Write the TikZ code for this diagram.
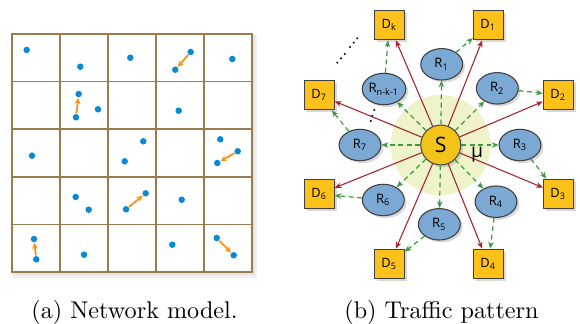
\documentclass[tikz,border=0pt]{standalone}
\usepackage{fontspec}
\newfontfamily\nodefont{Open Sans}
\usetikzlibrary{arrows.meta, shapes.geometric, shadows}

\definecolor{gridbrown}{HTML}{9C7B52}
\definecolor{dotblue}{HTML}{0A8AD2}
\definecolor{moveorange}{HTML}{F7941D}
\definecolor{dstyellow}{HTML}{FCC21A}
\definecolor{rlyblue}{HTML}{7BA9D4}
\definecolor{srcyellow}{HTML}{F2C318}
\definecolor{halo}{HTML}{EEF3C9}
\definecolor{directred}{HTML}{A8252E}
\definecolor{hopgreen}{HTML}{3C9C3C}

\begin{document}
\begin{tikzpicture}
[x=0.4135pt, y=-0.4135pt,
   cell/.style={gridbrown, line width=0.7pt, line cap=rect},
   spot/.style={circle, fill=dotblue, inner sep=0pt, minimum size=2.7pt},
   move/.style={moveorange, line width=0.75pt, -{Stealth[length=2.6pt,width=2.4pt]}},
   shade/.style={drop shadow={shadow xshift=1pt, shadow yshift=-1pt, opacity=0.3}},
   dst/.style={shape=rectangle, draw=black!75, line width=0.45pt, fill=dstyellow, minimum size=12.3pt, inner sep=0pt, font=\nodefont\fontsize{5.3}{6}\selectfont, shade},
   rly/.style={shape=ellipse, draw=black!75, line width=0.45pt, fill=rlyblue, minimum width=17.3pt, minimum height=13pt, inner sep=0pt, font=\nodefont\fontsize{5.4}{6}\selectfont, shade},
   src/.style={shape=circle, draw=black!70, line width=0.45pt, fill=srcyellow, minimum size=16.5pt, inner sep=0pt, font=\nodefont\fontsize{8.8}{9}\selectfont, shade},
   direct/.style={directred, line width=0.45pt, -{Stealth[length=2.8pt,width=2.3pt]}},
   hop/.style={hopgreen, line width=0.5pt, dash pattern=on 2pt off 1.5pt, -{Stealth[length=2.8pt,width=2.3pt]}}]
\useasboundingbox (0,0) rectangle (580,324);

% (a) network model
\fill[black!6] (13,35) rectangle (257,278);
\fill[black!10] (13,35) rectangle (255,275);
\fill[white] (12,34) rectangle (252,272);
\foreach \i in {0,...,5} {
  \draw[cell] (12+48*\i,34) -- (12+48*\i,272);
  \draw[cell] (12,34+47.6*\i) -- (252,34+47.6*\i);
}
\foreach \n/\x/\y in {p1/26.7/50, p2/80.3/66.7, p3/130.3/57.7, p4/190.7/52, p5/175.3/69.7, p6/232.3/59,
    p7/76/117.3, p8/78.7/94, p9/98/109.3, p10/178.7/110.7,
    p11/32/155.7, p12/143.3/141.3, p13/124.7/161.3, p14/220.3/139.3, p15/237.7/151.3, p16/217.3/163,
    p17/75.7/197, p18/88.7/209.7, p19/126/209.3, p20/145.7/193.3, p21/181.7/199.7,
    p22/36.3/259.3, p23/34/239, p24/84/254.7, p25/172.3/244.7, p26/216.7/238, p27/233.7/255.3}
  \node[spot] (\n) at (\x,\y) {};
\foreach \a/\b in {p4/p5, p7/p8, p15/p16, p19/p20, p22/p23, p26/p27}
  \draw[move] (\a) -- (\b);

% (b) traffic pattern
\coordinate (c) at (440.7,145);
\fill[halo] (c) circle (20.7pt);
\node[src] (S) at (c) {S};
\foreach \n/\x/\y/\t in {D1/488.3/25/1, D2/558.3/95/2, D3/558.3/194/3, D4/488.3/264/4,
    D5/389.3/264/5, D6/319.3/194/6, D7/319.3/95/7, Dk/389.3/25/k}
  \node[dst] (\n) at (\x,\y) {D\textsubscript{\t}};
\foreach \n/\x/\y/\t in {R1/441.7/64.3/1, R2/497.3/88.3/2, R3/520/145/3, R4/496/201.7/4,
    R5/439.3/224.3/5, R6/383.3/200/6, R7/360/145/7, Rnk/384/89/n-k-1}
  \node[rly] (\n) at (\x,\y) {R\textsubscript{\t}};
\foreach \d in {D1,D2,D3,D4,D5,D6,D7,Dk}
  \draw[direct] (S) -- (\d);
\foreach \r in {R1,R2,R3,R4,R5,R6,R7,Rnk}
  \draw[hop] (S) -- (\r);
\foreach \r/\d in {R1/D1, R2/D2, R3/D3, R4/D4, R5/D5, R6/D6, R7/D7, Rnk/Dk}
  \draw[hop] (\r) -- (\d);
\node[font=\nodefont\fontsize{8}{9}\selectfont] (mu) at (477,155) {μ};
\foreach \x/\y in {337.3/62.7, 341/58.3, 344.7/54, 350/47, 353.7/42.7, 357.3/38.3,
    374.3/110, 372.3/115.7, 370.7/121}
  \fill (\x,\y) circle (0.45pt);

% captions
\node[anchor=base] (capa) at (134.5,318) {(a) Network model.};
\node[anchor=base] (capb) at (441.5,318) {(b) Traffic pattern};
\end{tikzpicture}
\end{document}
